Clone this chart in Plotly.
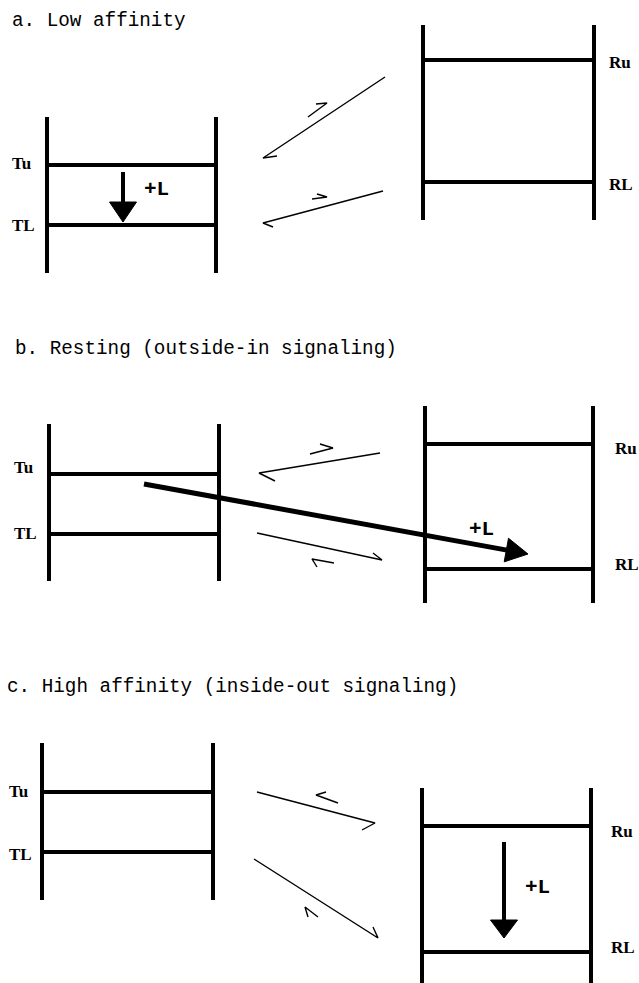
import plotly.graph_objects as go

W, H = 639, 983

# ---------------- data (diagram geometry, pixel units) ----------------
titles = ["a. Low affinity", "b. Resting (outside-in signaling)", "c. High affinity (inside-out signaling)"]
title_x = [10, 13, 5]
title_y = [21, 349, 687]

# T-state ladder (left)
T_left_x = [47, 49, 42]
T_right_x = [216, 219, 213]
T_top = [117, 424, 743]
T_bottom = [273, 581, 900]
Tu_y = [165, 474, 792]
TL_y = [225, 534, 852]
T_label_x = [10, 12, 7]
Tu_label_y = [163, 467, 791]
TL_label_y = [225, 533, 854]

# R-state ladder (right)
R_left_x = [423, 425, 422]
R_right_x = [594, 593, 591]
R_top = [25, 406, 788]
R_bottom = [220, 603, 983]
Ru_y = [60, 444, 826]
RL_y = [182, 569, 952]
R_label_x = [607, 613, 609]
Ru_label_y = [62, 448, 831]
RL_label_y = [184, 564, 947]

# equilibrium half-arrows: (x0, y0, x1, y1, barb_x, barb_y); barb drawn from (x1, y1)
eq_long = [
    (385, 77, 263, 158, 277, 156),
    (383, 191, 263, 223, 273, 227),
    (380, 453, 259, 473, 275, 481),
    (257, 533, 382, 560, 373, 553),
    (257, 792, 375, 823, 362, 830),
    (254, 859, 378, 938, 373, 927),
]
eq_short = [
    (308, 117, 327, 103, 316, 104),
    (312, 199, 327, 197, 317, 194),
    (310, 454, 333, 448, 320, 444),
    (334, 563, 312, 559, 317, 567),
    (338, 803, 316, 795, 326, 792),
    (318, 917, 305, 907, 308, 917),
]

# ligand-binding arrows: (x_start, y_start, x_tip, y_tip)
ligand_arrows = [
    (123, 172, 123, 222),
    (144, 484, 528, 554),
    (504, 842, 504, 938),
]
ligand_width = [4, 5, 4]
ligand_head_len = [20, 22, 18]
ligand_head_half = [13.5, 12, 13.5]
plusL_x = [142, 467, 523]
plusL_y = [189, 529, 887]

# ---------------- figure ----------------
fig = go.Figure()

def add_lines(xs, ys, width):
    fig.add_trace(go.Scatter(x=xs, y=ys, mode="lines",
                             line=dict(color="black", width=width),
                             hoverinfo="skip", showlegend=False))

# ladders
bx, by = [], []
for i in range(3):
    for (x, t, b) in [(T_left_x[i], T_top[i], T_bottom[i]), (T_right_x[i], T_top[i], T_bottom[i]),
                      (R_left_x[i], R_top[i], R_bottom[i]), (R_right_x[i], R_top[i], R_bottom[i])]:
        bx += [x, x, None]; by += [t, b, None]
    for yv in (Tu_y[i], TL_y[i]):
        bx += [T_left_x[i], T_right_x[i], None]; by += [yv, yv, None]
    for yv in (Ru_y[i], RL_y[i]):
        bx += [R_left_x[i], R_right_x[i], None]; by += [yv, yv, None]
add_lines(bx, by, 4)

# equilibrium arrows
ex, ey = [], []
for (x0, y0, x1, y1, bxx, byy) in eq_long + eq_short:
    ex += [x0, x1, bxx, None]; ey += [y0, y1, byy, None]
add_lines(ex, ey, 1.4)

# ligand arrows with filled heads
for i, (xs, ys, xt, yt) in enumerate(ligand_arrows):
    dx, dy = xt - xs, yt - ys
    L = (dx * dx + dy * dy) ** 0.5
    ux, uy = dx / L, dy / L
    hl, hh = ligand_head_len[i], ligand_head_half[i]
    bxp, byp = xt - ux * hl, yt - uy * hl
    add_lines([xs, bxp + ux * 2], [ys, byp + uy * 2], ligand_width[i])
    px, py = -uy, ux
    fig.add_trace(go.Scatter(
        x=[xt, bxp + px * hh, bxp - px * hh, xt],
        y=[yt, byp + py * hh, byp - py * hh, yt],
        mode="lines", fill="toself", fillcolor="black",
        line=dict(color="black", width=1), hoverinfo="skip", showlegend=False))

ann = []
def text(x, y, s, size, family, bold=False):
    ann.append(dict(x=x, y=y, xref="x", yref="y", text=f"<b>{s}</b>" if bold else s,
                    showarrow=False, xanchor="left", yanchor="middle",
                    font=dict(family=family, size=size, color="black")))

for i in range(3):
    text(title_x[i], title_y[i], titles[i], 19.3, "Liberation Mono")
    text(T_label_x[i], Tu_label_y[i], "Tu", 17, "Liberation Serif", True)
    text(T_label_x[i], TL_label_y[i], "TL", 17, "Liberation Serif", True)
    text(R_label_x[i], Ru_label_y[i], "Ru", 17, "Liberation Serif", True)
    text(R_label_x[i], RL_label_y[i], "RL", 17, "Liberation Serif", True)
    text(plusL_x[i], plusL_y[i], "+L", 21, "Liberation Mono", True)

fig.update_layout(
    width=W, height=H, margin=dict(l=0, r=0, t=0, b=0),
    paper_bgcolor="white", plot_bgcolor="white",
    xaxis=dict(range=[0, W], visible=False, fixedrange=True),
    yaxis=dict(range=[H, 0], visible=False, fixedrange=True),
    annotations=ann, showlegend=False,
)
fig.write_html("out.html", config={"displayModeBar": False},
               post_script="document.body.style.margin='0';document.body.style.padding='0';"
                           "document.documentElement.style.overflow='hidden';")
